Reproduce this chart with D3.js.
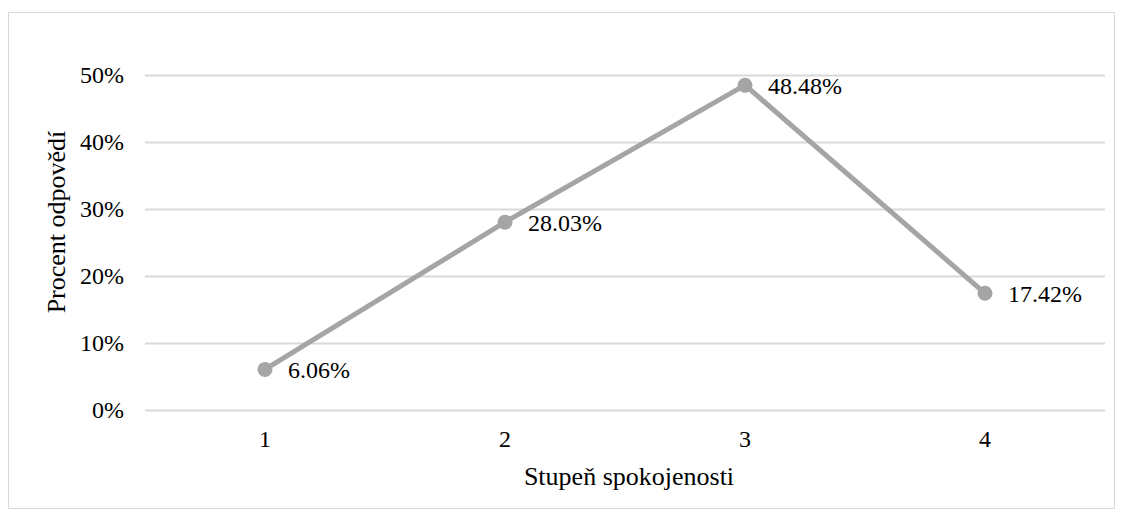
<!DOCTYPE html>
<html>
<head>
<meta charset="utf-8">
<script src="https://cdn.jsdelivr.net/npm/d3@7"></script>
<style>
  body { margin: 0; background: #fff; }
  text { font-family: "Liberation Serif", "Times New Roman", serif; fill: #000; }
</style>
</head>
<body>
<div id="chart"></div>
<script>
const categories = ["1", "2", "3", "4"]
const values = [6.06, 28.03, 48.48, 17.42]
const yTicks = [0, 10, 20, 30, 40, 50]
const xTitle = "Stupeň spokojenosti"
const yTitle = "Procent odpovědí"

const width = 1124, height = 516
const margin = {left: 145, right: 19, top: 75, bottom: 106}

const svg = d3.select("#chart").append("svg")
    .attr("width", width)
    .attr("height", height)

// outer frame
svg.append("rect")
    .attr("x", 8.5).attr("y", 12.5)
    .attr("width", 1106).attr("height", 496)
    .attr("fill", "none")
    .attr("stroke", "#d9d9d9")

const x = d3.scaleBand()
    .domain(categories)
    .range([margin.left, width - margin.right])

const y = d3.scaleLinear()
    .domain([0, 50])
    .range([height - margin.bottom, margin.top])

// gridlines
svg.append("g").selectAll("line")
    .data(yTicks)
  .enter().append("line")
    .attr("x1", margin.left)
    .attr("x2", width - margin.right)
    .attr("y1", d => Math.round(y(d)) + 0.5)
    .attr("y2", d => Math.round(y(d)) + 0.5)
    .attr("stroke", "#d9d9d9")
    .attr("stroke-width", 2)

// y tick labels
svg.append("g").selectAll("text")
    .data(yTicks)
  .enter().append("text")
    .attr("x", 124)
    .attr("y", d => y(d))
    .attr("dy", "0.35em")
    .attr("text-anchor", "end")
    .style("font-size", "24px")
    .text(d => d + "%")

// x tick labels
svg.append("g").selectAll("text")
    .data(categories)
  .enter().append("text")
    .attr("x", d => x(d) + x.bandwidth() / 2)
    .attr("y", 447)
    .attr("text-anchor", "middle")
    .style("font-size", "24px")
    .text(d => d)

// axis titles
svg.append("text")
    .attr("x", 629)
    .attr("y", 485)
    .attr("text-anchor", "middle")
    .style("font-size", "26px")
    .text(xTitle)

svg.append("text")
    .attr("transform", "translate(65,222) rotate(-90)")
    .attr("text-anchor", "middle")
    .style("font-size", "26px")
    .text(yTitle)

const cx = (d, i) => x(categories[i]) + x.bandwidth() / 2

const line = d3.line()
    .x((d, i) => cx(d, i))
    .y(d => y(d))

svg.append("path")
    .datum(values)
    .attr("d", line)
    .attr("fill", "none")
    .attr("stroke", "#a5a5a5")
    .attr("stroke-width", 5)
    .attr("stroke-linejoin", "round")

svg.append("g").selectAll("circle")
    .data(values)
  .enter().append("circle")
    .attr("cx", cx)
    .attr("cy", d => y(d))
    .attr("r", 7.5)
    .attr("fill", "#a5a5a5")

svg.append("g").selectAll("text")
    .data(values)
  .enter().append("text")
    .attr("x", (d, i) => cx(d, i) + 23)
    .attr("y", d => y(d))
    .attr("dy", "0.35em")
    .style("font-size", "24px")
    .text(d => d.toFixed(2) + "%")
</script>
</body>
</html>
